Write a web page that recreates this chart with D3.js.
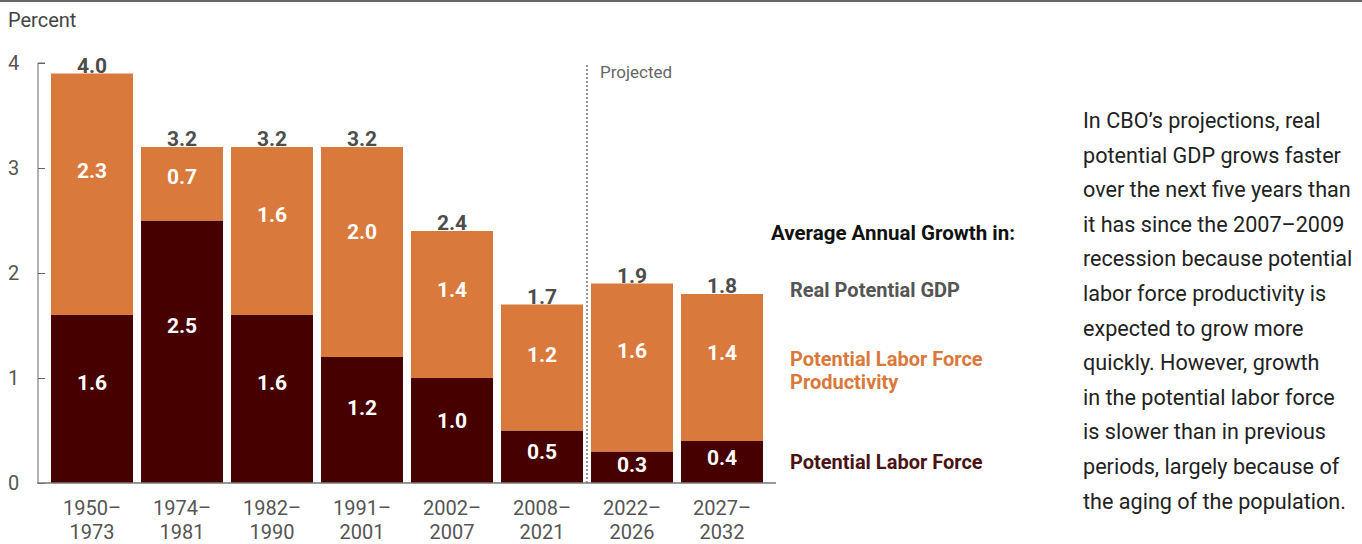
<!DOCTYPE html>
<html>
<head>
<meta charset="utf-8">
<script src="https://cdn.jsdelivr.net/npm/d3@7"></script>
<style>
  html, body { margin: 0; padding: 0; background: #fff; }
  svg { display: block; font-family: Roboto, "Noto Sans", sans-serif; }
</style>
</head>
<body>
<svg id="chart" width="1362" height="544"></svg>
<script>
// Growth of real potential GDP and its components, by period
const periods = ["1950–1973", "1974–1981", "1982–1990", "1991–2001", "2002–2007", "2008–2021", "2022–2026", "2027–2032"];
const laborForce = [1.6, 2.5, 1.6, 1.2, 1.0, 0.5, 0.3, 0.4];
const productivity = [2.3, 0.7, 1.6, 2.0, 1.4, 1.2, 1.6, 1.4];
const potentialGDP = [4.0, 3.2, 3.2, 3.2, 2.4, 1.7, 1.9, 1.8];
const yTicks = [0, 1, 2, 3, 4];
const firstProjected = "2022–2026";

const legendTitle = "Average Annual Growth in:";
const legendItems = [
  { lines: ["Real Potential GDP"], color: "#555555" },
  { lines: ["Potential Labor Force", "Productivity"], color: "#d9793b" },
  { lines: ["Potential Labor Force"], color: "#4a1414" }
];
const noteLines = [
  "In CBO’s projections, real",
  "potential GDP grows faster",
  "over the next five years than",
  "it has since the 2007–2009",
  "recession because potential",
  "labor force productivity is",
  "expected to grow more",
  "quickly. However, growth",
  "in the potential labor force",
  "is slower than in previous",
  "periods, largely because of",
  "the aging of the population."
];

const COLOR_LABOR = "#470000";
const COLOR_PROD = "#d9793b";

const svg = d3.select("#chart");

// rule across the top
svg.append("line")
  .attr("x1", 0).attr("x2", 1362).attr("y1", 1).attr("y2", 1)
  .attr("stroke", "#666").attr("stroke-width", 2);

svg.append("text")
  .attr("x", 8).attr("y", 27)
  .attr("font-size", 20).attr("fill", "#444")
  .text("Percent");

const x = d3.scaleBand()
  .domain(periods)
  .range([47, 767])
  .paddingInner(8 / 90)
  .paddingOuter(4 / 90);

const y = d3.scaleLinear().domain([0, 4]).range([483, 63]);

// y axis: line with short ticks pointing into the plot
const yAxis = svg.append("g").attr("transform", "translate(38,0)")
  .call(d3.axisRight(y).tickValues(yTicks).tickSize(7).tickFormat(""));
yAxis.select(".domain").attr("stroke", "#666").attr("d", `M7,${y(4)}H0V${y(0)}`);
yAxis.selectAll(".tick line").attr("stroke", "#666");

svg.selectAll(".ylab").data(yTicks).join("text")
  .attr("class", "ylab")
  .attr("x", 8).attr("y", d => y(d))
  .attr("dy", "0.35em")
  .attr("font-size", 20).attr("fill", "#555")
  .text(d => d);

// stacked bars
const rows = periods.map((p, i) => ({
  period: p, labor: laborForce[i], prod: productivity[i], total: potentialGDP[i]
}));
const stack = d3.stack().keys(["labor", "prod"])(rows);
const colors = { labor: COLOR_LABOR, prod: COLOR_PROD };

// total labels sit right on top of each stack
svg.selectAll(".total").data(rows).join("text")
  .attr("class", "total")
  .attr("x", d => x(d.period) + x.bandwidth() / 2)
  .attr("y", d => y(d.labor + d.prod) - 1)
  .attr("text-anchor", "middle")
  .attr("font-size", 21).attr("font-weight", 700).attr("fill", "#4d4d4d")
  .text(d => d3.format(".1f")(d.total));

const layers = svg.selectAll(".layer").data(stack).join("g")
  .attr("class", "layer")
  .attr("fill", s => colors[s.key]);

layers.selectAll("rect").data(s => s.map(d => ({ d, key: s.key }))).join("rect")
  .attr("x", e => x(e.d.data.period))
  .attr("width", x.bandwidth())
  .attr("y", e => y(e.d[1]))
  .attr("height", e => y(e.d[0]) - y(e.d[1]));

layers.selectAll("text").data(s => s.map(d => ({ d, key: s.key }))).join("text")
  .attr("x", e => x(e.d.data.period) + x.bandwidth() / 2)
  .attr("y", e => y(e.d[1]) + 0.4 * (y(e.d[0]) - y(e.d[1])))
  .attr("dy", "0.36em")
  .attr("text-anchor", "middle")
  .attr("font-size", 21).attr("font-weight", 700).attr("fill", "#fff")
  .text(e => d3.format(".1f")(e.d.data[e.key]));

// baseline
svg.append("line")
  .attr("x1", 37).attr("x2", 776).attr("y1", y(0)).attr("y2", y(0))
  .attr("stroke", "#777").attr("stroke-width", 1.5);

// x labels, two lines each
const xl = svg.selectAll(".xlab").data(periods).join("text")
  .attr("class", "xlab")
  .attr("text-anchor", "middle")
  .attr("font-size", 20).attr("fill", "#555");
xl.append("tspan")
  .attr("x", d => x(d) + x.bandwidth() / 2).attr("y", 515)
  .text(d => d.split("–")[0] + "–");
xl.append("tspan")
  .attr("x", d => x(d) + x.bandwidth() / 2).attr("y", 539)
  .text(d => d.split("–")[1]);

// projection divider
const divX = x(firstProjected) - (x.step() - x.bandwidth()) / 2;
svg.append("line")
  .attr("x1", divX).attr("x2", divX).attr("y1", 65).attr("y2", y(0))
  .attr("stroke", "#777").attr("stroke-width", 1.5)
  .attr("stroke-dasharray", "2,2");
svg.append("text")
  .attr("x", divX + 13).attr("y", 78)
  .attr("font-size", 17).attr("fill", "#666")
  .text("Projected");

// legend
svg.append("text")
  .attr("x", 771).attr("y", 240)
  .attr("font-size", 20.5).attr("font-weight", 700).attr("fill", "#111")
  .text(legendTitle);
const legendY = [297, 366, 469];
legendItems.forEach((item, i) => {
  const t = svg.append("text")
    .attr("font-size", 20).attr("font-weight", 700).attr("fill", item.color);
  item.lines.forEach((line, j) => {
    t.append("tspan").attr("x", 790).attr("y", legendY[i] + j * 23).text(line);
  });
});

// side note
svg.append("text")
  .attr("font-size", 21.6).attr("fill", "#222")
  .selectAll("tspan").data(noteLines).join("tspan")
  .attr("x", 1083)
  .attr("y", (d, i) => 128 + i * 34.6)
  .text(d => d);
</script>
</body>
</html>
